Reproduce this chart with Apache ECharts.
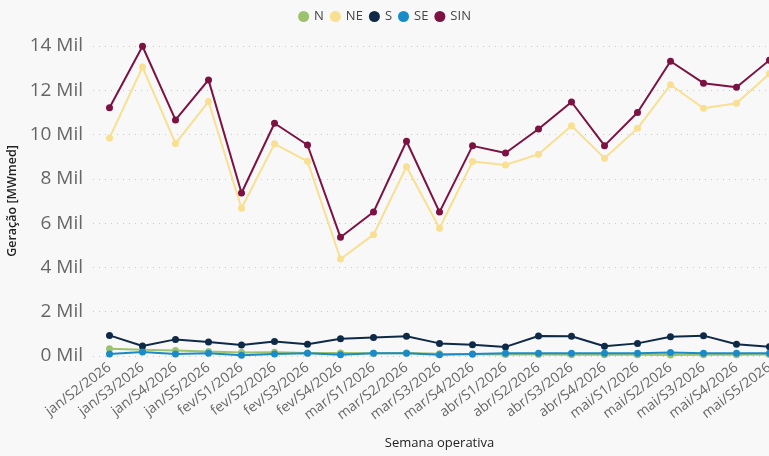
<!DOCTYPE html>
<html><head><meta charset="utf-8">
<script src="https://cdn.jsdelivr.net/npm/echarts@6/dist/echarts.min.js"></script>
<style>html,body{margin:0;padding:0;background:#f8f8f8;}#c{width:769px;height:456px;}</style>
</head><body><div id="c"></div>
<script>
const categories = ["jan/S2/2026","jan/S3/2026","jan/S4/2026","jan/S5/2026","fev/S1/2026","fev/S2/2026","fev/S3/2026","fev/S4/2026","mar/S1/2026","mar/S2/2026","mar/S3/2026","mar/S4/2026","abr/S1/2026","abr/S2/2026","abr/S3/2026","abr/S4/2026","mai/S1/2026","mai/S2/2026","mai/S3/2026","mai/S4/2026","mai/S5/2026"];
const N   = [330,280,250,200,160,170,130,140,120,140,100,80,70,70,60,60,60,50,60,60,70];
const NE  = [9850,13050,9600,11490,6670,9580,8790,4380,5480,8550,5770,8780,8630,9110,10400,8930,10280,12250,11190,11410,12750];
const S   = [930,450,750,630,500,650,530,780,840,890,570,510,410,900,890,440,570,870,920,530,420];
const SE  = [90,180,90,120,30,90,120,60,120,120,60,90,120,120,120,120,120,160,120,120,120];
const SIN = [11210,13990,10660,12470,7360,10510,9530,5360,6500,9700,6500,9490,9170,10250,11470,9500,11000,13310,12320,12140,13360];
const yTicks = [0,2000,4000,6000,8000,10000,12000,14000];

const names = ["N","NE","S","SE","SIN"];
const colors = ["#9cc26d","#f9df91","#0f2a47","#1a8bc8","#7b1241"];
const datas = [N,NE,S,SE,SIN];

const chart = echarts.init(document.getElementById('c'));
chart.setOption({
  backgroundColor:'#f8f8f8',
  animation:false,
  color: colors,
  legend:{top:5,left:'center',itemWidth:11,itemHeight:11,itemGap:6,icon:'circle',
    textStyle:{color:'#444',fontSize:13,fontFamily:'Open Sans'},
    data:names},
  grid:{left:93,width:693,top:46,height:310,containLabel:false,outerBoundsMode:'none'},
  xAxis:{type:'category',data:categories,boundaryGap:true,
    name:'Semana operativa',nameLocation:'middle',nameGap:81,
    nameTextStyle:{color:'#222',fontSize:13,fontFamily:'Open Sans'},
    axisLine:{show:false},axisTick:{show:false},
    axisLabel:{rotate:37,interval:0,color:'#666',fontSize:14,fontFamily:'Open Sans',margin:10}},
  yAxis:{type:'value',min:0,max:14000,interval:2000,
    name:'Geração [MWmed]',nameLocation:'middle',nameGap:67,
    nameTextStyle:{color:'#222',fontSize:12.5,fontWeight:600,fontFamily:'Open Sans'},
    axisLine:{show:false},axisTick:{show:false},
    splitLine:{lineStyle:{type:[1,5],color:'#c8c8c8',width:1}},
    axisLabel:{color:'#666',fontSize:19,fontFamily:'Open Sans',margin:10,
      formatter:v=>yTicks.includes(v)?(v/1000)+' Mil':''}},
  series: names.map((n,i)=>({name:n,type:'line',data:datas[i],symbol:'circle',symbolSize:7,
    lineStyle:{width:2},itemStyle:{color:colors[i]},z:i}))
});
</script></body></html>
